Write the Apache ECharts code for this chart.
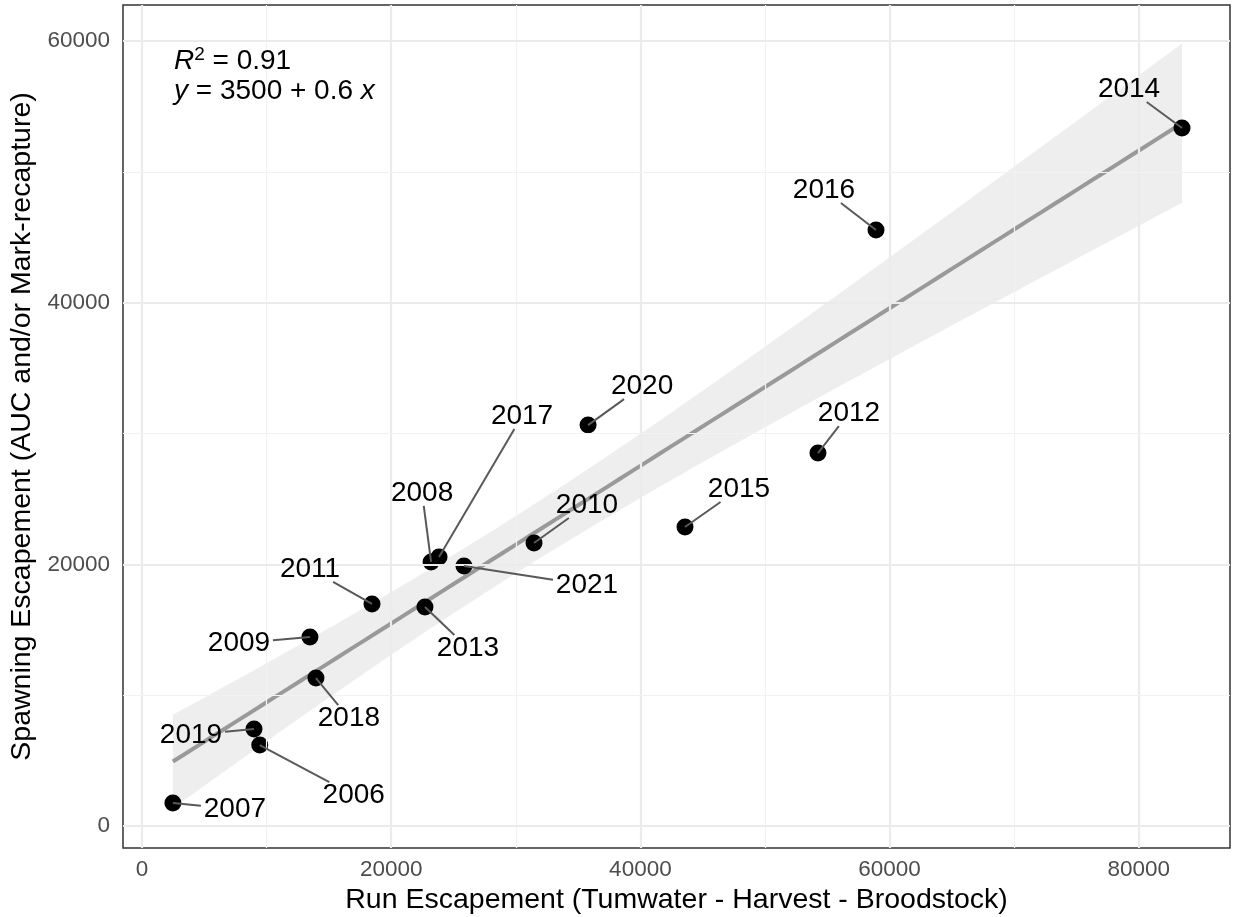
<!DOCTYPE html>
<html>
<head>
<meta charset="utf-8">
<title>Run vs Spawning Escapement</title>
<script src="https://cdn.jsdelivr.net/npm/echarts@6/dist/echarts.min.js"></script>
<style>
  html, body { margin: 0; padding: 0; background: #ffffff; }
  #chart { width: 1236px; height: 917px; }
</style>
</head>
<body>
<div id="chart"></div>
<script>
// Return year, run escapement (Tumwater - Harvest - Broodstock) and spawning escapement
const years = [2006, 2007, 2008, 2009, 2010, 2011, 2012, 2013, 2014, 2015, 2016, 2017, 2018, 2019, 2020, 2021];
const runEscapement = [9450, 2480, 23200, 13480, 31460, 18460, 54250, 22710, 83470, 43580, 58910, 23840, 13960, 8990, 35800, 25840];
const spawningEscapement = [6190, 1760, 20180, 14440, 21630, 16970, 28500, 16740, 53340, 22850, 45550, 20560, 11310, 7410, 30640, 19870];

const xTicks = [0, 20000, 40000, 60000, 80000];
const yTicks = [0, 20000, 40000, 60000];
const xMinor = [10000, 30000, 50000, 70000];
const yMinor = [10000, 30000, 50000];

// Where each year's label text sits, as a pixel offset of its centre from the point
const labelOffsets = {
  2006: [94, 50], 2007: [62, 6], 2008: [-9, -69], 2009: [-71, 6],
  2010: [53, -38], 2011: [-62, -35], 2012: [31, -40], 2013: [43, 41],
  2014: [-53, -39], 2015: [54, -38], 2016: [-52, -40], 2017: [83, -141],
  2018: [33, 40], 2019: [-63, 6], 2020: [54, -39], 2021: [123, 19]
};

const FONT = '"Liberation Sans", Arial, Helvetica, sans-serif';

// ---- least-squares fit with 95% confidence band ----
const n = runEscapement.length;
const mx = runEscapement.reduce((a, b) => a + b, 0) / n;
const my = spawningEscapement.reduce((a, b) => a + b, 0) / n;
let sxx = 0, sxy = 0;
for (let i = 0; i < n; i++) {
  sxx += (runEscapement[i] - mx) ** 2;
  sxy += (runEscapement[i] - mx) * (spawningEscapement[i] - my);
}
const slope = sxy / sxx;
const intercept = my - slope * mx;
let sse = 0;
for (let i = 0; i < n; i++) {
  const r = spawningEscapement[i] - (intercept + slope * runEscapement[i]);
  sse += r * r;
}
const sigma = Math.sqrt(sse / (n - 2));
const tCrit = 2.1448; // t(0.975, df = 14)
const xLo = Math.min(...runEscapement), xHi = Math.max(...runEscapement);
const fitLine = [], bandUpper = [], bandLower = [];
for (let k = 0; k < 80; k++) {
  const x = xLo + (xHi - xLo) * k / 79;
  const yhat = intercept + slope * x;
  const se = sigma * Math.sqrt(1 / n + (x - mx) ** 2 / sxx);
  fitLine.push([x, yhat]);
  bandUpper.push([x, yhat + tCrit * se]);
  bandLower.push([x, yhat - tCrit * se]);
}

const points = years.map((yr, i) => [runEscapement[i], spawningEscapement[i], yr]);

// reference grid lines (major + minor) drawn at data positions
const gridMarks = []
  .concat(xTicks.map(v => ({ xAxis: v, lineStyle: { color: '#ebebeb', width: 2.2, type: 'solid' } })))
  .concat(xMinor.map(v => ({ xAxis: v, lineStyle: { color: '#f2f2f2', width: 1.2, type: 'solid' } })))
  .concat(yTicks.map(v => ({ yAxis: v, lineStyle: { color: '#ebebeb', width: 2.2, type: 'solid' } })))
  .concat(yMinor.map(v => ({ yAxis: v, lineStyle: { color: '#f2f2f2', width: 1.2, type: 'solid' } })));

const chart = echarts.init(document.getElementById('chart'), null, { renderer: 'canvas' });

const plainNumber = v => String(Math.round(v));

const option = {
  animation: false,
  backgroundColor: '#ffffff',
  textStyle: { fontFamily: FONT },
  grid: {
    left: 123, right: 6, top: 5, bottom: 69,
    containLabel: false,
    outerBoundsMode: 'none',
    show: true, backgroundColor: '#ffffff',
    borderColor: '#333333', borderWidth: 1.5
  },
  xAxis: {
    type: 'value',
    min: -1525, max: 87320,
    splitLine: { show: false },
    axisLine: { show: false },
    axisTick: { show: true, customValues: xTicks, length: 6, lineStyle: { color: '#333333', width: 1.5 } },
    axisLabel: { customValues: xTicks, formatter: plainNumber, color: '#4d4d4d', fontSize: 22.5, margin: 10, fontFamily: FONT },
    name: 'Run Escapement (Tumwater - Harvest - Broodstock)',
    nameLocation: 'middle', nameGap: 36,
    nameTextStyle: { color: '#000000', fontSize: 28.5, fontFamily: FONT }
  },
  yAxis: {
    type: 'value',
    min: -1681, max: 62744,
    splitLine: { show: false },
    axisLine: { show: false },
    axisTick: { show: true, customValues: yTicks, length: 6, lineStyle: { color: '#333333', width: 1.5 } },
    axisLabel: { customValues: yTicks, formatter: plainNumber, color: '#4d4d4d', fontSize: 22.5, margin: 13, fontFamily: FONT },
    name: 'Spawning Escapement (AUC and/or Mark-recapture)',
    nameLocation: 'middle', nameGap: 85,
    nameTextStyle: { color: '#000000', fontSize: 28.5, fontFamily: FONT }
  },
  series: [
    {
      name: 'grid',
      type: 'line',
      data: [],
      z: 1,
      silent: true,
      markLine: {
        silent: true,
        symbol: ['none', 'none'],
        label: { show: false },
        emphasis: { disabled: true },
        animation: false,
        data: gridMarks
      }
    },
    {
      name: 'band',
      type: 'custom',
      z: 2,
      silent: true,
      data: [0],
      renderItem: function (params, api) {
        const pts = bandUpper.map(p => api.coord(p))
          .concat(bandLower.slice().reverse().map(p => api.coord(p)));
        return {
          type: 'polygon',
          shape: { points: pts },
          style: { fill: 'rgba(153,153,153,0.17)', stroke: null }
        };
      }
    },
    {
      name: 'fit',
      type: 'line',
      z: 3,
      silent: true,
      data: fitLine,
      showSymbol: false,
      lineStyle: { color: '#999999', width: 4 }
    },
    {
      name: 'years',
      type: 'scatter',
      z: 4,
      data: points,
      symbol: 'circle',
      symbolSize: 17,
      itemStyle: { color: '#000000', opacity: 1 }
    },
    {
      name: 'labels',
      type: 'custom',
      z: 5,
      silent: true,
      data: points,
      renderItem: function (params, api) {
        const x = api.value(0), y = api.value(1), yr = api.value(2);
        const p = api.coord([x, y]);
        const off = labelOffsets[yr];
        const cx = p[0] + off[0], cy = p[1] + off[1];
        const hw = 34, hh = 13;
        const t = Math.min(hw / Math.max(Math.abs(off[0]), 1e-6), hh / Math.max(Math.abs(off[1]), 1e-6));
        const children = [];
        if (t < 1) {
          children.push({
            type: 'line',
            shape: { x1: p[0], y1: p[1], x2: cx - off[0] * t, y2: cy - off[1] * t },
            style: { stroke: '#595959', lineWidth: 2 }
          });
        }
        children.push({
          type: 'text',
          style: {
            text: String(yr), x: cx, y: cy,
            align: 'center', verticalAlign: 'middle',
            fill: '#000000', font: '28px ' + FONT
          }
        });
        return { type: 'group', children: children };
      }
    }
  ],
  graphic: [
    {
      type: 'text', left: 174, top: 45, z: 10,
      style: {
        text: '{i|R}{s|2}{n| = 0.91}',
        rich: {
          i: { fontSize: 28, fontStyle: 'italic', fontFamily: FONT, fill: '#000', verticalAlign: 'bottom', lineHeight: 30 },
          s: { fontSize: 19, fontFamily: FONT, fill: '#000', verticalAlign: 'top', lineHeight: 30 },
          n: { fontSize: 28, fontFamily: FONT, fill: '#000', verticalAlign: 'bottom', lineHeight: 30 }
        }
      }
    },
    {
      type: 'text', left: 174, top: 77, z: 10,
      style: {
        text: '{i|y}{n| = 3500 + 0.6 }{i|x}',
        rich: {
          i: { fontSize: 28, fontStyle: 'italic', fontFamily: FONT, fill: '#000' },
          n: { fontSize: 28, fontFamily: FONT, fill: '#000' }
        }
      }
    }
  ]
};

chart.setOption(option);
</script>
</body>
</html>
